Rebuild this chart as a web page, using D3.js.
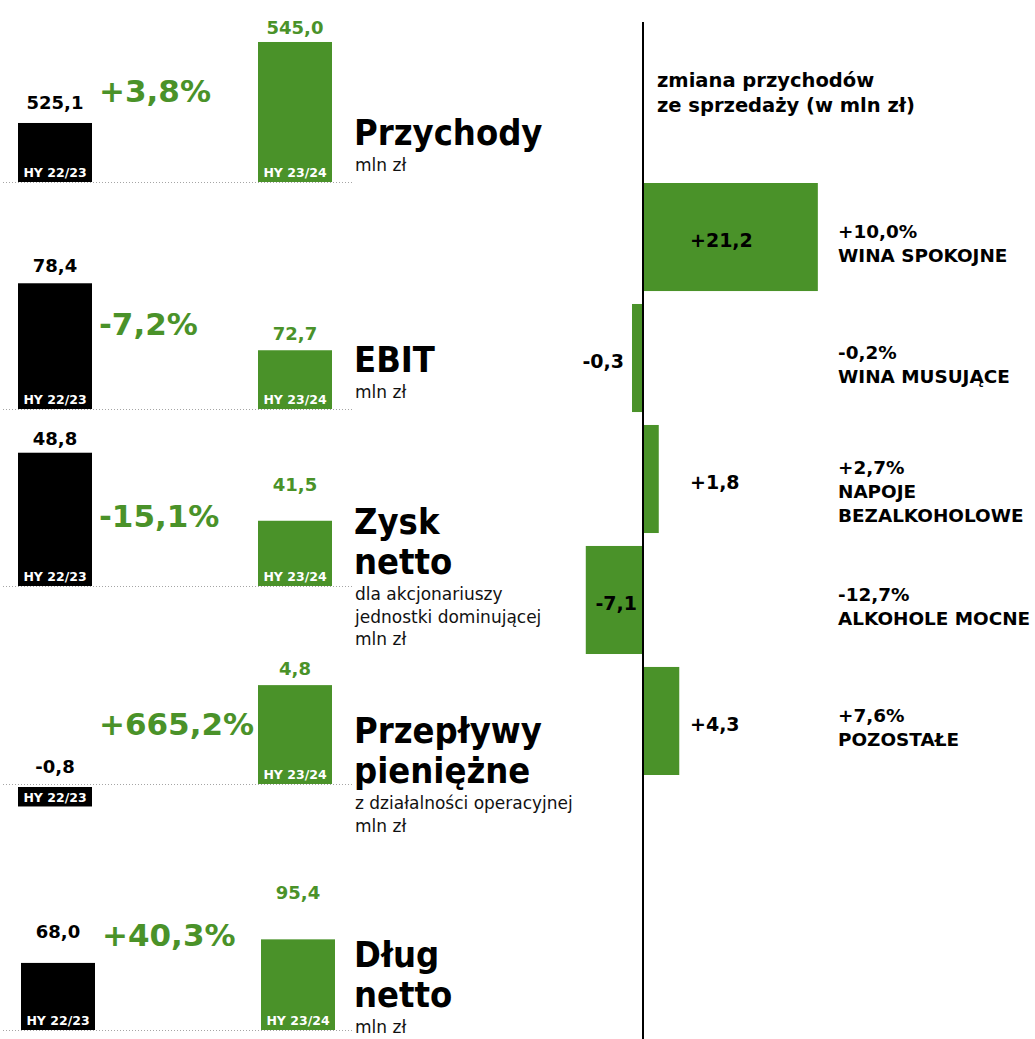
<!DOCTYPE html>
<html>
<head>
<meta charset="utf-8">
<script src="https://cdn.jsdelivr.net/npm/d3@7"></script>
<style>
  html, body { margin: 0; padding: 0; background: #fff; }
  svg { display: block; }
  .title { font-family: "DejaVu Sans Condensed", "DejaVu Sans", sans-serif; font-stretch: condensed; font-weight: bold; }
  .t { font-family: "DejaVu Sans", Verdana, sans-serif; }
</style>
</head>
<body>
<script>
// ---------------- DATA ----------------
const periods = ["HY 22/23", "HY 23/24"];
const metrics = ["Przychody", "EBIT", "Zysk netto", "Przepływy pieniężne", "Dług netto"];
const titleLines = [["Przychody"], ["EBIT"], ["Zysk", "netto"], ["Przepływy", "pieniężne"], ["Dług", "netto"]];
const subtitleLines = [["mln zł"], ["mln zł"], ["dla akcjonariuszy", "jednostki dominującej", "mln zł"], ["z działalności operacyjnej", "mln zł"], ["mln zł"]];
const prevValues = [525.1, 78.4, 48.8, -0.8, 68.0];
const currValues = [545.0, 72.7, 41.5, 4.8, 95.4];
const changeLabels = ["+3,8%", "-7,2%", "-15,1%", "+665,2%", "+40,3%"];

const segmentTitle = ["zmiana przychodów", "ze sprzedaży (w mln zł)"];
const segments = ["WINA SPOKOJNE", "WINA MUSUJĄCE", "NAPOJE BEZALKOHOLOWE", "ALKOHOLE MOCNE", "POZOSTAŁE"];
const segmentNameLines = [["WINA SPOKOJNE"], ["WINA MUSUJĄCE"], ["NAPOJE", "BEZALKOHOLOWE"], ["ALKOHOLE MOCNE"], ["POZOSTAŁE"]];
const segmentChange = [21.2, -0.3, 1.8, -7.1, 4.3];
const segmentPct = ["+10,0%", "-0,2%", "+2,7%", "-12,7%", "+7,6%"];

// ---------------- LAYOUT ----------------
const W = 1035, H = 1039;
const GREEN = "#4a9229";
const sectionBaseline = [182, 409, 586, 784, 1030];
const sectionShift = [0, 0, 0, 0, 3];
const axisFloor = [510.6, 67.7, 34.5, 0, -10];   // truncated value axes, per panel
const pxPerUnit = [4.07, 11.75, 9.32, 20.6, 0.86];
const prevLabelGap = [14, 11, 8, 11, 25];
const currLabelGap = [8, 10, 30, 10, 40];
const changeBaseline = [102, 335, 527, 735, 946];
const titleBaseline = [145, 372, 534, 743, 967];

const loc = d3.formatLocale({decimal: ",", thousands: " ", grouping: [3], currency: ["", " zł"], minus: "-"});
const fmt = loc.format(".1f");
const fmtSigned = loc.format("+.1f");

const svg = d3.select("body").append("svg").attr("width", W).attr("height", H);

// ---------------- LEFT PANELS ----------------
metrics.forEach((m, i) => {
  const base = sectionBaseline[i];
  const sh = sectionShift[i];
  const g = svg.append("g").attr("class", "panel").attr("transform", `translate(${sh},0)`);
  const x = d3.scaleBand().domain(periods).range([18, 332]).paddingInner(166 / 240).paddingOuter(0);
  const hi = Math.max(prevValues[i], currValues[i]);
  const y = d3.scaleLinear().domain([axisFloor[i], hi]).range([base, base - pxPerUnit[i] * (hi - axisFloor[i])]);
  const vals = [prevValues[i], currValues[i]];

  // dotted baseline
  g.append("line").attr("x1", 3 - sh).attr("x2", 352 - sh).attr("y1", base + 0.5).attr("y2", base + 0.5)
    .attr("stroke", "#a5a5a5").attr("stroke-width", 1).attr("stroke-dasharray", "1,2");

  periods.forEach((p, j) => {
    const v = vals[j];
    const negative = v < 0;
    let top, hgt;
    if (negative) { top = y(0) + 3; hgt = y(v) - y(0) + 3; }
    else { top = y(v); hgt = base - y(v); }
    g.append("rect").attr("x", x(p)).attr("y", top)
      .attr("width", x.bandwidth()).attr("height", hgt)
      .attr("fill", j === 0 ? "#000" : GREEN);
    // period label inside bar bottom
    const lblY = negative ? top + hgt - 4 : base - 5;
    g.append("text").attr("class", "t").attr("x", x(p) + x.bandwidth() / 2).attr("y", lblY)
      .attr("text-anchor", "middle").attr("font-size", 12.5).attr("font-weight", "bold")
      .attr("fill", "#fff").text(p);
    // value label
    const gap = j === 0 ? prevLabelGap[i] : currLabelGap[i];
    const vy = (negative ? y(0) : top) - gap;
    g.append("text").attr("class", "t").attr("x", x(p) + x.bandwidth() / 2).attr("y", vy)
      .attr("text-anchor", "middle").attr("font-size", 18).attr("font-weight", "bold")
      .attr("fill", j === 0 ? "#000" : GREEN).text(fmt(v));
  });

  // change percentage
  g.append("text").attr("class", "t").attr("x", 99).attr("y", changeBaseline[i])
    .attr("font-size", 31).attr("font-weight", "bold").attr("fill", GREEN).text(changeLabels[i]);

  // title
  const tg = svg.append("g");
  titleLines[i].forEach((line, k) => {
    tg.append("text").attr("class", "title").attr("x", 354).attr("y", titleBaseline[i] + k * 40)
      .attr("font-size", 36).attr("fill", "#000").text(line);
  });
  const subStart = titleBaseline[i] + (titleLines[i].length - 1) * 40 + 26;
  subtitleLines[i].forEach((line, k) => {
    tg.append("text").attr("class", "t").attr("x", 355).attr("y", subStart + k * 22.5)
      .attr("font-size", 17).attr("fill", "#111").text(line);
  });
});

// ---------------- RIGHT PANEL ----------------
const xs = d3.scaleLinear().domain([-10, 25]).range([644 - 82, 644 + 205]);
const ys = d3.scaleBand().domain(segments).range([183, 775]).paddingInner(0.107).paddingOuter(0);
const minBar = 12;
const rg = svg.append("g");

segments.forEach((s, i) => {
  const v = segmentChange[i];
  let w = Math.abs(xs(v) - xs(0));
  w = Math.max(w, minBar);
  const bx = v >= 0 ? xs(0) : xs(0) - w;
  rg.append("rect").attr("x", bx).attr("y", ys(s)).attr("width", w).attr("height", ys.bandwidth()).attr("fill", GREEN);
  const cy = ys(s) + ys.bandwidth() / 2;
  // value label
  let tx, anchor;
  if (v >= 0) { tx = xs(0) + 46; anchor = "start"; }
  else if (w > 40) { tx = xs(0) - 7; anchor = "end"; }
  else { tx = bx - 8; anchor = "end"; }
  rg.append("text").attr("class", "t").attr("x", tx).attr("y", cy + 10).attr("text-anchor", anchor)
    .attr("font-size", 19).attr("font-weight", "bold").attr("fill", "#000").text(fmtSigned(v));
  // category labels
  const lines = [segmentPct[i]].concat(segmentNameLines[i]);
  const first = cy + 1 - (lines.length - 2) * 6;
  lines.forEach((line, k) => {
    rg.append("text").attr("class", "t").attr("x", 838).attr("y", first + k * 24)
      .attr("font-size", 18.4).attr("font-weight", "bold").attr("fill", "#000").text(line);
  });
});

// axis line
rg.append("line").attr("x1", xs(0) - 1).attr("x2", xs(0) - 1).attr("y1", 22).attr("y2", H)
  .attr("stroke", "#000").attr("stroke-width", 2);

segmentTitle.forEach((line, k) => {
  rg.append("text").attr("class", "t").attr("x", 657).attr("y", 87 + k * 25)
    .attr("font-size", 19.5).attr("font-weight", "bold").attr("fill", "#000").text(line);
});
</script>
</body>
</html>
